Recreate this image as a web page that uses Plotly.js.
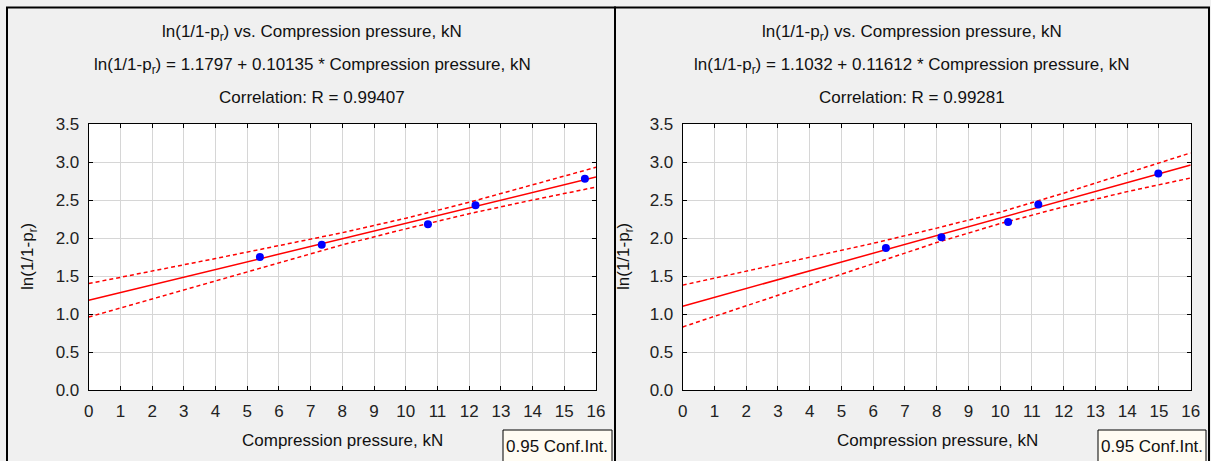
<!DOCTYPE html>
<html><head><meta charset="utf-8">
<script src="https://cdn.plot.ly/plotly-3.0.1.min.js"></script>
<style>html,body{margin:0;padding:0;background:#f0f0f0}</style>
</head><body><div id="chart" style="width:1211px;height:461px"></div>
<script>
// ---- data ----
const xLeft = [5.4, 7.35, 10.7, 12.2, 15.65];
const yLeft = [1.75, 1.91, 2.18, 2.43, 2.78];
const xRight = [6.4, 8.15, 10.25, 11.2, 14.98];
const yRight = [1.87, 2.01, 2.21, 2.44, 2.85];
const coefLeft = [1.1797, 0.10135];   // intercept, slope
const coefRight = [1.1032, 0.11612];
const fitX = [0, 16];
const bandX = [0, 2, 4, 6, 8, 10, 12, 14, 16];
const upperLeft = [1.40, 1.56, 1.73, 1.90, 2.07, 2.26, 2.47, 2.70, 2.93];
const lowerLeft = [0.96, 1.20, 1.44, 1.68, 1.91, 2.12, 2.32, 2.50, 2.67];
const upperRight = [1.38, 1.56, 1.75, 1.93, 2.13, 2.34, 2.59, 2.85, 3.12];
const lowerRight = [0.83, 1.11, 1.39, 1.67, 1.94, 2.19, 2.41, 2.61, 2.79];
const titleLeft = ["ln(1/1-p<sub>r</sub>) vs. Compression pressure, kN",
  "ln(1/1-p<sub>r</sub>) = 1.1797 + 0.10135 * Compression pressure, kN",
  "Correlation: R = 0.99407"];
const titleRight = ["ln(1/1-p<sub>r</sub>) vs. Compression pressure, kN",
  "ln(1/1-p<sub>r</sub>) = 1.1032 + 0.11612 * Compression pressure, kN",
  "Correlation: R = 0.99281"];
const xTitle = "Compression pressure, kN";
const yTitle = "ln(1/1-p<sub>r</sub>)";
const legendText = "0.95 Conf.Int.";

// ---- figure ----
const W = 1211, H = 461;
const px = v => v / W, py = v => 1 - v / H;
const FONT = "Liberation Sans, Arial, sans-serif";
const RED = "#ff0000", BLUE = "#0000ff";

function fitLine(coef) { return fitX.map(x => coef[0] + coef[1] * x); }

function panelTraces(xa, ya, xs, ys, coef, up, lo) {
  return [
    {x: bandX, y: up, xaxis: xa, yaxis: ya, mode: "lines", line: {color: RED, width: 1.5, dash: "4px,3px"}, hoverinfo: "skip"},
    {x: bandX, y: lo, xaxis: xa, yaxis: ya, mode: "lines", line: {color: RED, width: 1.5, dash: "4px,3px"}, hoverinfo: "skip"},
    {x: fitX, y: fitLine(coef), xaxis: xa, yaxis: ya, mode: "lines", line: {color: RED, width: 1.5}},
    {x: xs, y: ys, xaxis: xa, yaxis: ya, mode: "markers", marker: {color: BLUE, size: 8}}
  ];
}

const data = [
  ...panelTraces("x", "y", xLeft, yLeft, coefLeft, upperLeft, lowerLeft),
  ...panelTraces("x2", "y2", xRight, yRight, coefRight, upperRight, lowerRight)
];

const tickFont = {family: FONT, size: 17, color: "#222"};
function xax(domain, anchor) {
  return {domain: domain, anchor: anchor, range: [0, 16], dtick: 1, tick0: 0,
    showgrid: true, gridcolor: "#d6d6d6", gridwidth: 1, zeroline: false,
    showline: true, linecolor: "#000", linewidth: 1, mirror: "ticks",
    ticks: "inside", ticklen: 4, tickcolor: "#000", tickfont: tickFont, ticklabelstandoff: 6};
}
function yax(domain, anchor) {
  return {domain: domain, anchor: anchor, range: [0, 3.5], dtick: 0.5, tick0: 0, tickformat: ".1f",
    showgrid: true, gridcolor: "#d6d6d6", gridwidth: 1, zeroline: false,
    showline: true, linecolor: "#000", linewidth: 1, mirror: "ticks",
    ticks: "inside", ticklen: 4, tickcolor: "#000", tickfont: tickFont, ticklabelstandoff: 5};
}
const yDom = [py(390), py(124)];

const annotations = [];
function addText(text, x, y, opts) {
  annotations.push(Object.assign({text: text, x: px(x), y: py(y), xref: "paper", yref: "paper",
    showarrow: false, xanchor: "center", yanchor: "middle",
    font: {family: FONT, size: 17, color: "#111"}}, opts || {}));
}
[33, 66, 97].forEach((yy, i) => { addText(titleLeft[i], 312, yy); addText(titleRight[i], 912, yy); });
addText(xTitle, 342, 440);
addText(xTitle, 937, 440);
addText(yTitle, 29, 257, {textangle: -90});
addText(yTitle, 625, 257, {textangle: -90});
addText(legendText, 557, 446);
addText(legendText, 1152, 446);

const shapes = [
  {type: "rect", xref: "paper", yref: "paper", x0: px(7), x1: px(615), y0: -0.2, y1: py(7.5), line: {color: "#000", width: 2}},
  {type: "rect", xref: "paper", yref: "paper", x0: px(615), x1: px(1209), y0: -0.2, y1: py(7.5), line: {color: "#000", width: 2}},
  {type: "rect", xref: "paper", yref: "paper", x0: px(503), x1: px(612), y0: -0.2, y1: py(430), line: {color: "#000", width: 1}, fillcolor: "#fffcf3"},
  {type: "rect", xref: "paper", yref: "paper", x0: px(1098), x1: px(1206), y0: -0.2, y1: py(430), line: {color: "#000", width: 1}, fillcolor: "#fffcf3"}
];

const layout = {
  width: W, height: H, margin: {l: 0, r: 0, t: 0, b: 0},
  paper_bgcolor: "#f0f0f0", plot_bgcolor: "#ffffff", showlegend: false,
  font: {family: FONT},
  xaxis: xax([px(88.7), px(596)], "y"),
  yaxis: yax(yDom, "x"),
  xaxis2: xax([px(682.7), px(1190.7)], "y2"),
  yaxis2: yax(yDom, "x2"),
  annotations: annotations, shapes: shapes
};

Plotly.newPlot("chart", data, layout, {staticPlot: true, displayModeBar: false});
</script></body></html>
